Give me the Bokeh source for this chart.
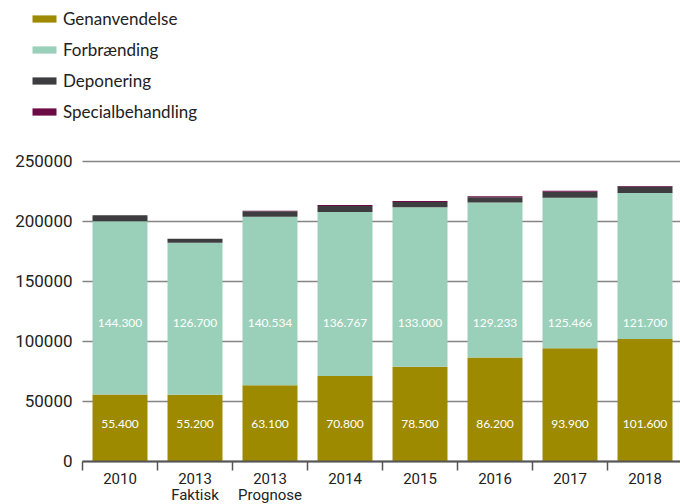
from bokeh.plotting import figure
from bokeh.models import (Range1d, FixedTicker, BasicTickFormatter, Legend,
                          LegendItem, ColumnDataSource)
from bokeh.core.properties import value
from bokeh.embed import file_html
from bokeh.resources import INLINE

categories = ["2010", "2013\nFaktisk", "2013\nPrognose", "2014", "2015", "2016", "2017", "2018"]
genanvendelse = [55400, 55200, 63100, 70800, 78500, 86200, 93900, 101600]
forbraending = [144300, 126700, 140534, 136767, 133000, 129233, 125466, 121700]
deponering = [5000, 3300, 4400, 5000, 4400, 4400, 5000, 5300]
specialbehandling = [0, 0, 600, 800, 800, 800, 900, 600]
series_names = ["Genanvendelse", "Forbrænding", "Deponering", "Specialbehandling"]
y_ticks = [0, 50000, 100000, 150000, 200000, 250000]

colors = ["#9e8a00", "#9acfb9", "#3d3d3f", "#6b0a45"]


def fmt(v):
    return f"{v:,}".replace(",", ".")


xs = list(range(1, len(categories) + 1))
source = ColumnDataSource(dict(
    x=xs, gen=genanvendelse, forb=forbraending, dep=deponering, spec=specialbehandling,
    gen_lbl=[fmt(v) for v in genanvendelse], forb_lbl=[fmt(v) for v in forbraending],
    gen_y=[31000] * len(xs), forb_y=[114800] * len(xs),
))

X_LEFT, X_RIGHT = 0.5, 8.4733
p = figure(width=680, height=504, x_range=Range1d(-0.5933, X_RIGHT),
           y_range=Range1d(-36250, 383750),
           output_backend="svg", toolbar_location=None, min_border=0)
p.outline_line_color = None
p.background_fill_color = "white"
p.border_fill_color = "white"
p.xgrid.visible = False
p.ygrid.visible = False

renderers = p.vbar_stack(["gen", "forb", "dep", "spec"], x="x", width=0.733, source=source,
                         fill_color=colors, line_color=None)

p.text(x="x", y="gen_y", text="gen_lbl", source=source, text_align="center",
       text_baseline="middle", text_color="white", text_font=value("Lato"),
       text_font_size="12px")
p.text(x="x", y="forb_y", text="forb_lbl", source=source, text_align="center",
       text_baseline="middle", text_color="white", text_font=value("Lato"),
       text_font_size="12px")

# y axis (its ticks also serve as the horizontal grid lines, drawn under the bars)
yax = p.yaxis[0]
yax.fixed_location = X_LEFT
yax.bounds = (0, 250000)
yax.level = "underlay"
yax.ticker = FixedTicker(ticks=y_ticks)
yax.formatter = BasicTickFormatter(use_scientific=False)
yax.axis_line_color = None
yax.major_tick_out = 0
yax.major_tick_in = 600
yax.major_tick_line_color = "#858585"
yax.major_tick_line_width = 1.6
yax.minor_tick_line_color = None
yax.major_label_standoff = 10
yax.major_label_text_font = "Roboto"
yax.major_label_text_font_size = "17px"
yax.major_label_text_color = "#222222"

# x axis
xax = p.xaxis[0]
xax.fixed_location = 0
xax.bounds = (X_LEFT, X_RIGHT)
xax.ticker = FixedTicker(ticks=xs, minor_ticks=[i + 0.5 for i in range(len(xs) + 1)])
xax.major_label_overrides = {x: c for x, c in zip(xs, categories)}
xax.axis_line_color = "#555555"
xax.axis_line_width = 2
xax.major_tick_line_color = None
xax.major_tick_out = 8
xax.major_tick_in = 0
xax.minor_tick_out = 9
xax.minor_tick_in = 0
xax.minor_tick_line_color = "#555555"
xax.minor_tick_line_width = 1.5
xax.major_label_standoff = 0
xax.major_label_text_font = "Roboto"
xax.major_label_text_font_size = "15px"
xax.major_label_text_color = "#222222"
xax.major_label_text_line_height = 0.9

legend = Legend(items=[LegendItem(label=n, renderers=[r]) for n, r in zip(series_names, renderers)],
                location=(29, 382), orientation="vertical")
legend.border_line_color = None
legend.background_fill_alpha = 0
legend.padding = 0
legend.margin = 0
legend.spacing = 10
legend.glyph_width = 30
legend.glyph_height = 9
legend.label_height = 20
legend.label_standoff = 4
legend.label_text_font = "Lato"
legend.label_text_font_size = "17px"
legend.label_text_color = "#222222"
p.add_layout(legend)

open("out.html", "w").write(file_html(p, INLINE))
